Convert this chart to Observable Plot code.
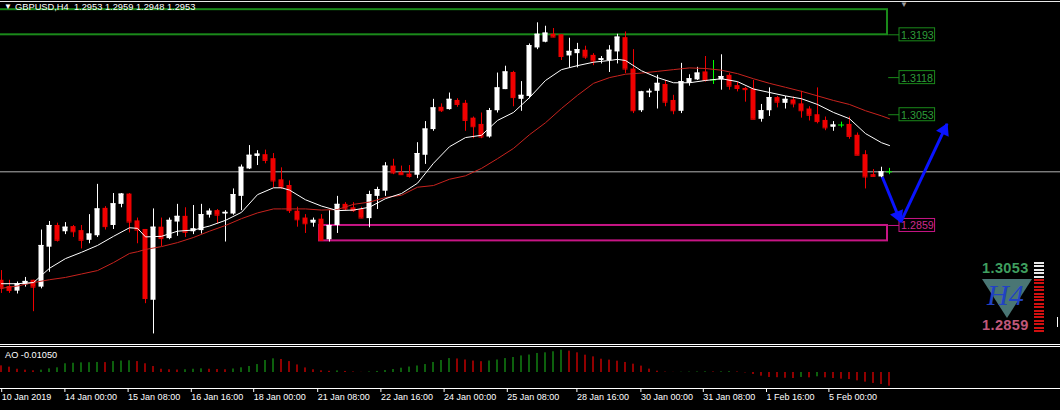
<!DOCTYPE html>
<html><head><meta charset="utf-8">
<script src="https://cdn.jsdelivr.net/npm/d3@7"></script>
<script src="https://cdn.jsdelivr.net/npm/@observablehq/plot@0.6"></script>
<style>
html,body{margin:0;padding:0;background:#000;overflow:hidden;}
#wrap{position:relative;width:1060px;height:410px;background:#000;font-family:"Liberation Sans",Arial,sans-serif;overflow:hidden;}
#main{position:absolute;left:0;top:0;}
#ao{position:absolute;left:0;top:348px;}
.hl{position:absolute;left:0;width:1060px;height:1px;background:#fff;}
.txt{position:absolute;white-space:pre;line-height:1;}
</style></head><body><div id="wrap"></div>
<script>
// ---- data (GBPUSD H4, bar index 0 = 10 Jan 2019 16:00) ----
const opens  = [1.2763,1.2752,1.2744,1.2755,1.2763,1.2751,1.2821,1.2859,1.2848,1.2857,1.2850,1.2833,1.2841,1.2889,1.2859,1.2896,1.2914,1.2867,1.2852,1.2728,1.2856,1.2836,1.2865,1.2875,1.2848,1.2850,1.2877,1.2885,1.2879,1.2879,1.2910,1.2958,1.2980,1.2983,1.2976,1.2939,1.2929,1.2884,1.2872,1.2863,1.2870,1.2834,1.2859,1.2896,1.2890,1.2887,1.2871,1.2910,1.2919,1.2963,1.2952,1.2949,1.2947,1.2982,1.3027,1.3066,1.3062,1.3078,1.3073,1.3047,1.3036,1.3014,1.3060,1.3097,1.3127,1.3080,1.3085,1.3170,1.3180,1.3194,1.3193,1.3156,1.3160,1.3166,1.3157,1.3148,1.3148,1.3163,1.3188,1.3133,1.3060,1.3091,1.3094,1.3106,1.3078,1.3059,1.3108,1.3114,1.3128,1.3114,1.3114,1.3122,1.3104,1.3099,1.3098,1.3045,1.3060,1.3083,1.3073,1.3079,1.3072,1.3063,1.3053,1.3043,1.3031,1.3035,1.3036,1.3017,1.2983,1.2948,1.2944,1.2953];
const highs  = [1.2780,1.2763,1.2760,1.2768,1.2763,1.2851,1.2866,1.2863,1.2864,1.2859,1.2859,1.2878,1.2931,1.2892,1.2915,1.2915,1.2915,1.2872,1.2852,1.2888,1.2872,1.2872,1.2896,1.2890,1.2894,1.2896,1.2888,1.2887,1.2885,1.2923,1.2965,1.2999,1.2990,1.2991,1.2985,1.2960,1.2937,1.2891,1.2878,1.2872,1.2878,1.2885,1.2910,1.2899,1.2899,1.2891,1.2919,1.2926,1.2969,1.2975,1.2963,1.2964,1.3004,1.3041,1.3080,1.3072,1.3091,1.3081,1.3078,1.3049,1.3056,1.3064,1.3126,1.3138,1.3129,1.3111,1.3177,1.3214,1.3208,1.3204,1.3193,1.3187,1.3178,1.3173,1.3160,1.3155,1.3174,1.3194,1.3198,1.3167,1.3094,1.3098,1.3122,1.3113,1.3087,1.3143,1.3123,1.3136,1.3155,1.3148,1.3158,1.3125,1.3110,1.3101,1.3113,1.3071,1.3100,1.3085,1.3085,1.3084,1.3094,1.3067,1.3100,1.3049,1.3041,1.3040,1.3049,1.3021,1.2990,1.2957,1.2961,1.2959];
const lows   = [1.2740,1.2740,1.2739,1.2751,1.2708,1.2748,1.2777,1.2830,1.2843,1.2838,1.2818,1.2827,1.2838,1.2851,1.2852,1.2890,1.2846,1.2827,1.2722,1.2669,1.2822,1.2834,1.2840,1.2838,1.2843,1.2844,1.2872,1.2862,1.2830,1.2877,1.2885,1.2957,1.2964,1.2967,1.2925,1.2922,1.2880,1.2856,1.2845,1.2856,1.2832,1.2830,1.2845,1.2885,1.2882,1.2871,1.2855,1.2887,1.2910,1.2948,1.2947,1.2942,1.2941,1.2966,1.3024,1.3057,1.3061,1.3066,1.3024,1.3011,1.3011,1.3012,1.3056,1.3097,1.3067,1.3059,1.3081,1.3167,1.3179,1.3188,1.3148,1.3135,1.3135,1.3150,1.3139,1.3142,1.3127,1.3142,1.3125,1.3055,1.3057,1.3083,1.3063,1.3067,1.3053,1.3055,1.3103,1.3113,1.3110,1.3106,1.3096,1.3096,1.3093,1.3075,1.3045,1.3040,1.3050,1.3065,1.3063,1.3065,1.3047,1.3042,1.3037,1.3025,1.3024,1.3030,1.3010,1.2982,1.2923,1.2944,1.2942,1.2948];
const closes = [1.2749,1.2745,1.2757,1.2761,1.2751,1.2824,1.2859,1.2833,1.2856,1.2848,1.2833,1.2844,1.2888,1.2857,1.2897,1.2914,1.2865,1.2851,1.2731,1.2856,1.2836,1.2868,1.2875,1.2847,1.2853,1.2878,1.2884,1.2877,1.2882,1.2913,1.2961,1.2982,1.2984,1.2973,1.2937,1.2926,1.2885,1.2869,1.2862,1.2868,1.2833,1.2859,1.2896,1.2888,1.2885,1.2872,1.2913,1.2922,1.2963,1.2951,1.2948,1.2945,1.2985,1.3028,1.3065,1.3060,1.3080,1.3071,1.3043,1.3032,1.3014,1.3060,1.3100,1.3128,1.3083,1.3087,1.3174,1.3194,1.3196,1.3189,1.3155,1.3164,1.3167,1.3154,1.3147,1.3151,1.3166,1.3189,1.3133,1.3060,1.3093,1.3094,1.3108,1.3075,1.3060,1.3111,1.3116,1.3126,1.3113,1.3114,1.3120,1.3103,1.3099,1.3097,1.3045,1.3060,1.3083,1.3075,1.3080,1.3072,1.3060,1.3052,1.3041,1.3030,1.3035,1.3035,1.3015,1.2982,1.2944,1.2945,1.2953,1.2953];

// moving averages (bar index, price)
const maIdx   = [0,2,4,6,8,10,12,14,16,17,18,20,22,24,26,28,30,32,34,35,36,38,40,42,44,46,48,50,52,54,56,58,60,62,64,66,68,70,72,74,76,77,78,80,82,84,86,88,90,92,94,96,98,100,102,104,106,108,110,111];
const maFast  = [1.2757,1.2757,1.2759,1.2784,1.2801,1.2812,1.2824,1.2840,1.2855,1.2854,1.2839,1.2840,1.2849,1.2851,1.2858,1.2868,1.2882,1.2913,1.2925,1.2925,1.2921,1.2904,1.2893,1.2885,1.2886,1.2891,1.2906,1.2915,1.2933,1.2968,1.2997,1.3013,1.3017,1.3043,1.3057,1.3083,1.3113,1.3132,1.3139,1.3145,1.3148,1.3150,1.3148,1.3130,1.3118,1.3109,1.3109,1.3113,1.3116,1.3111,1.3098,1.3092,1.3086,1.3081,1.3071,1.3057,1.3046,1.3020,1.3004,1.2999];
const maSlow  = [1.2749,1.2753,1.2759,1.2764,1.2768,1.2774,1.2780,1.2794,1.2810,1.2813,1.2817,1.2822,1.2829,1.2838,1.2849,1.2859,1.2871,1.2881,1.2888,1.2888,1.2888,1.2888,1.2886,1.2887,1.2896,1.2900,1.2908,1.2912,1.2926,1.2929,1.2940,1.2946,1.2959,1.2976,1.2994,1.3018,1.3039,1.3064,1.3087,1.3108,1.3118,1.3121,1.3124,1.3126,1.3129,1.3132,1.3135,1.3134,1.3131,1.3125,1.3116,1.3108,1.3101,1.3094,1.3086,1.3078,1.3071,1.3060,1.3051,1.3046];

// Awesome Oscillator histogram, one value per bar
const aoValues = [0.0051,0.0041,0.0025,0.0018,0.0013,0.0018,0.0028,0.0036,0.0067,0.0071,0.0074,0.0075,0.0077,0.0076,0.0084,0.0088,0.0090,0.0084,0.0067,0.0046,0.0025,0.0021,0.0019,0.0021,0.0025,0.0028,0.0025,0.0023,0.0021,0.0027,0.0036,0.0046,0.0061,0.0092,0.0105,0.0100,0.0084,0.0058,0.0035,0.0021,0.0013,0.0009,0.0012,0.0008,0.0004,0.0001,0.0004,0.0008,0.0015,0.0023,0.0033,0.0042,0.0050,0.0061,0.0077,0.0092,0.0107,0.0104,0.0096,0.0088,0.0083,0.0088,0.0096,0.0107,0.0115,0.0127,0.0134,0.0146,0.0151,0.0159,0.0171,0.0164,0.0151,0.0133,0.0120,0.0102,0.0095,0.0087,0.0077,0.0064,0.0049,0.0026,0.0010,0.0003,0.0001,0.0002,0.0003,0.0004,0.0005,0.0004,0.0005,0.0006,0.0004,-0.0003,-0.0015,-0.0028,-0.0038,-0.0040,-0.0044,-0.0046,-0.0038,-0.0041,-0.0033,-0.0041,-0.0046,-0.0051,-0.0054,-0.0064,-0.0074,-0.0084,-0.0092,-0.0105];

// time axis
const tickPos    = [-0.1,7.8,15.7,23.6,31.4,39.4,47.3,55.2,63.1,71.8,79.8,87.6,95.5,103.3];
const tickLabels = ["10 Jan 2019","14 Jan 00:00","15 Jan 08:00","16 Jan 16:00","18 Jan 00:00","21 Jan 08:00","22 Jan 16:00","24 Jan 00:00","25 Jan 08:00","28 Jan 16:00","30 Jan 00:00","31 Jan 08:00","1 Feb 16:00","5 Feb 00:00"];

// drawn objects
const zoneHigh  = [1.3237, 1.2859];
const zoneLow   = [1.3193, 1.2832];
const zoneStart = [-1, 39.75];
const zoneEnd   = [110.75, 110.75];
const zoneKind  = ["resistance", "support"];
const levelPrices = [1.3193, 1.3118, 1.3053, 1.2859];
const levelKind   = ["resistance", "resistance", "resistance", "support"];
const arrowFromBar = [110.1, 112.4];
const arrowFromPx  = [1.2944, 1.2865];
const arrowToBar   = [112.4, 118.2];
const arrowToPx    = [1.2865, 1.3037];
const lastQuote = {symbol: "GBPUSD,H4", o: 1.2953, h: 1.2959, l: 1.2948, c: 1.2953};
const aoLast = -0.01050;

// ---- build ----
const kindColor = {resistance: "#1a8a1a", support: "#c71585"};
const kindText  = {resistance: "#2e9e3a", support: "#cc2a8c"};
const W = 1060, H = 344;
const xDomain = [-0.125, 132.375];
const yDomain = [1.26505, 1.32531];
const pxPerBar = W / (xDomain[1] - xDomain[0]);
const pxPerPrice = H / (yDomain[1] - yDomain[0]);

const candles = opens.map((o, i) => ({i, o, h: highs[i], l: lows[i], c: closes[i]}));
const col = d => d.c > d.o ? "#ffffff" : d.c < d.o ? "#f00000" : "#00ff00";
const bodies = candles.filter(d => d.c !== d.o);
const dojis = candles.filter(d => d.c === d.o);
const fast = maIdx.map((i, k) => ({i, v: maFast[k]}));
const slow = maIdx.map((i, k) => ({i, v: maSlow[k]}));
const zones = zoneHigh.map((h, k) => ({hi: h, lo: zoneLow[k], x1: zoneStart[k], x2: zoneEnd[k], kind: zoneKind[k]}));
const levels = levelPrices.map((p, k) => ({p, kind: levelKind[k]}));
const arrows = arrowFromBar.map((x, k) => {
  const a = {x1: x, y1: arrowFromPx[k], x2: arrowToBar[k], y2: arrowToPx[k]};
  const dxp = (a.x2 - a.x1) * pxPerBar, dyp = -(a.y2 - a.y1) * pxPerPrice;
  const len = Math.hypot(dxp, dyp), ux = dxp / len, uy = dyp / len;
  a.hx = a.x2 - ux * 7 / pxPerBar;
  a.hy = a.y2 + uy * 7 / pxPerPrice;
  a.rot = Math.atan2(ux, -uy) * 180 / Math.PI;
  return a;
});
const font = '"Liberation Sans", Arial, sans-serif';

const main = Plot.plot({
  width: W, height: H, margin: 0, clip: true,
  style: {background: "none", fontFamily: font},
  x: {domain: xDomain, axis: null},
  y: {domain: yDomain, axis: null},
  marks: [
    Plot.rect(zones, {x1: "x1", x2: "x2", y1: "lo", y2: "hi", fill: "none", stroke: d => kindColor[d.kind], strokeWidth: 2}),
    Plot.ruleY([lastQuote.c], {stroke: "#b4b4b4", strokeWidth: 1}),
    Plot.ruleX(candles, {x: "i", y1: "l", y2: "h", stroke: col, strokeWidth: 1}),
    Plot.rect(bodies, {x1: d => d.i - 0.3125, x2: d => d.i + 0.3125, y1: "o", y2: "c", fill: col}),
    Plot.ruleY(bodies, {y: "c", x1: d => d.i - 0.3125, x2: d => d.i + 0.3125, stroke: col}),
    Plot.ruleY(dojis, {y: "c", x1: d => d.i - 0.375, x2: d => d.i + 0.375, stroke: "#00ff00"}),
    Plot.line(slow, {x: "i", y: "v", stroke: "#c8231e", strokeWidth: 1}),
    Plot.line(fast, {x: "i", y: "v", stroke: "#ffffff", strokeWidth: 1}),
    Plot.ruleY(levels, {y: "p", x1: 110.9, x2: 112.25, stroke: d => kindColor[d.kind]}),
    Plot.rect(levels, {x1: 112.25, x2: 116.7, y1: "p", y2: "p", insetTop: -6.5, insetBottom: -6.5, fill: "#000", stroke: d => kindColor[d.kind], strokeWidth: 1}),
    Plot.text(levels, {x: 112.45, y: "p", text: d => d.p.toFixed(4), textAnchor: "start", fill: d => kindText[d.kind], fontSize: 10.7, dy: 0.5}),
    Plot.link(arrows, {x1: "x1", y1: "y1", x2: "x2", y2: "y2", stroke: "#0a14ff", strokeWidth: 3}),
    Plot.dot(arrows, {x: "hx", y: "hy", symbol: "triangle", r: 5.2, rotate: "rot", fill: "#0a14ff", stroke: "none"})
  ]
});
main.id = "main";

const aoData = aoValues.map((v, i) => ({i, v, up: i > 0 && v > aoValues[i - 1]}));
const labelAt = new Map(tickPos.map((p, k) => [p, tickLabels[k]]));
const barHalf = 0.6 / pxPerBar;
const ao = Plot.plot({
  width: W, height: 62, marginTop: 0, marginBottom: 22, marginLeft: 0, marginRight: 0,
  style: {background: "none", fontFamily: font, fontSize: "9px"},
  x: {domain: xDomain, axis: null},
  y: {domain: [-0.01228, 0.01842], axis: null},
  marks: [
    Plot.rect(aoData.filter(d => d.up), {x1: d => d.i - barHalf, x2: d => d.i + barHalf, y1: 0, y2: "v", fill: "#16a016"}),
    Plot.rect(aoData.filter(d => !d.up), {x1: d => d.i - barHalf, x2: d => d.i + barHalf, y1: 0, y2: "v", fill: "#f00000"}),
    Plot.ruleY([-0.01228], {stroke: "#ffffff"}),
    Plot.axisX(tickPos, {anchor: "bottom", tickSize: 4, tickPadding: 1.5, tickFormat: d => labelAt.get(d), textAnchor: "start", dx: 1, stroke: "#ffffff", fill: "#ffffff", label: null})
  ]
});
ao.id = "ao";

const wrap = document.getElementById("wrap");
wrap.append(main, ao);

function addDiv(cls, css, text) {
  const el = document.createElement("div");
  el.className = cls; el.style.cssText = css;
  if (text != null) el.textContent = text;
  wrap.append(el);
  return el;
}
// frame lines
addDiv("hl", "top:1px;background:#e8e8e8;");
addDiv("hl", "top:344px;");
addDiv("hl", "top:346px;");
// header
addDiv("txt", "left:4px;top:3px;font-size:8px;color:#fff;", "\u25BC");
addDiv("txt", "left:15px;top:3.4px;font-size:9.3px;color:#fff;",
  `${lastQuote.symbol}  ${lastQuote.o.toFixed(4)} ${lastQuote.h.toFixed(4)} ${lastQuote.l.toFixed(4)} ${lastQuote.c.toFixed(4)}`);
addDiv("txt", "left:900px;top:1px;font-size:8px;color:#9a9a9a;", "\u25BC");
// AO label
addDiv("txt", "left:5px;top:350.5px;font-size:9.2px;color:#fff;", `AO ${aoLast.toFixed(5)}`);
// corner badge
addDiv("txt", "left:982px;top:261px;font-size:14.5px;font-weight:bold;color:#3f9f5f;letter-spacing:0.4px;", levelPrices[2].toFixed(4));
addDiv("", "position:absolute;left:982px;top:279px;width:0;height:0;border-left:25px solid transparent;border-right:25px solid transparent;border-top:39px solid #4a7674;");
addDiv("txt", "left:987px;top:280px;font-size:30px;font-style:italic;font-family:'Liberation Serif',serif;color:#2142c4;", "H4");
addDiv("txt", "left:982px;top:318px;font-size:14.5px;font-weight:bold;color:#c0587a;letter-spacing:0.4px;", levelPrices[3].toFixed(4));
addDiv("", "position:absolute;left:1034px;top:262px;width:10px;height:16px;background:repeating-linear-gradient(to bottom,#e8e8e8 0 2px,transparent 2px 3.4px);");
addDiv("", "position:absolute;left:1034px;top:279px;width:10px;height:54px;background:repeating-linear-gradient(to bottom,#d01010 0 2px,transparent 2px 3.4px);");
addDiv("", "position:absolute;left:1057px;top:317px;width:1px;height:10px;background:#fff;");
</script>
</body></html>
